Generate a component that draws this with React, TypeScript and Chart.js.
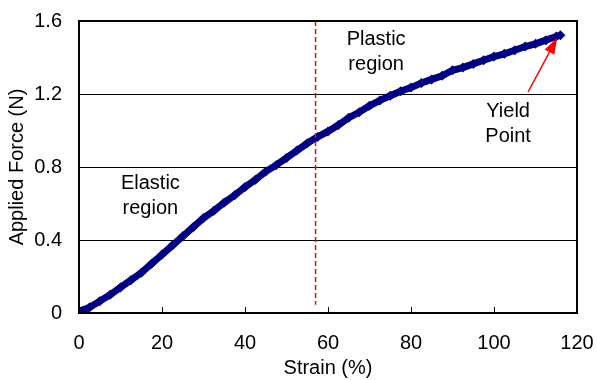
import React, { useEffect, useRef } from "react";
import { Chart, registerables } from "chart.js";

Chart.register(...registerables);

const strain = [0, 2.5, 5, 7.5, 10, 12.5, 15, 17.5, 20, 22.5, 25, 27.5, 30, 32.5, 35, 37.5, 40, 42.5, 45, 47.5, 50, 52.5, 55, 57.5, 60, 62.5, 65, 67.5, 70, 72.5, 75, 77.5, 80, 82.5, 85, 87.5, 90, 92.5, 95, 97.5, 100, 102.5, 105, 107.5, 110, 112.5, 115, 116];
const force = [0.01, 0.03, 0.065, 0.1, 0.14, 0.18, 0.22, 0.27, 0.32, 0.37, 0.42, 0.47, 0.52, 0.56, 0.605, 0.645, 0.69, 0.73, 0.775, 0.81, 0.85, 0.89, 0.93, 0.965, 0.995, 1.03, 1.07, 1.1, 1.135, 1.165, 1.19, 1.215, 1.235, 1.26, 1.28, 1.3, 1.33, 1.345, 1.365, 1.385, 1.405, 1.42, 1.44, 1.46, 1.475, 1.495, 1.515, 1.522];

const xTicks = [0, 20, 40, 60, 80, 100, 120];
const yTicks = [0, 0.4, 0.8, 1.2, 1.6];

const dashX = 57;
const dashY = [1.6, 0.045];

const annotations = [
  { lines: ["Elastic", "region"], x: 17.2, y: 0.64 },
  { lines: ["Plastic", "region"], x: 71.6, y: 1.43 },
  { lines: ["Yield", "Point"], x: 103.4, y: 1.036 },
];
const arrowFrom = { x: 108.2, y: 1.211 };
const arrowTo = { x: 115.2, y: 1.507 };

const FONT = "'Liberation Sans', Arial, sans-serif";

const zeroPad = (s: any) => {
  s.paddingTop = 0;
  s.paddingBottom = 0;
  s.paddingLeft = 0;
  s.paddingRight = 0;
};

const overlay = {
  id: "overlay",
  beforeDatasetsDraw(chart: any) {
    const { ctx, chartArea, scales } = chart;
    const xs = scales.x;
    ctx.save();
    ctx.strokeStyle = "#000";
    ctx.lineWidth = 1;
    for (const t of xTicks) {
      if (t === 0 || t === 120) continue;
      const px = Math.round(xs.getPixelForValue(t)) + 0.5;
      ctx.beginPath();
      ctx.moveTo(px, chartArea.bottom);
      ctx.lineTo(px, chartArea.bottom - 6);
      ctx.stroke();
    }
    ctx.restore();
  },
  afterDraw(chart: any) {
    const { ctx, chartArea, scales } = chart;
    const xs = scales.x;
    const ys = scales.y;
    ctx.save();
    ctx.strokeStyle = "#000";
    ctx.lineWidth = 2;
    ctx.strokeRect(chartArea.left, chartArea.top, chartArea.right - chartArea.left, chartArea.bottom - chartArea.top);
    ctx.fillStyle = "#000";
    ctx.font = `20px ${FONT}`;
    ctx.textAlign = "center";
    ctx.textBaseline = "middle";
    for (const a of annotations) {
      const cx = xs.getPixelForValue(a.x);
      const cy = ys.getPixelForValue(a.y);
      const lh = 25;
      a.lines.forEach((l, i) => {
        ctx.fillText(l, cx, cy + (i - (a.lines.length - 1) / 2) * lh);
      });
    }
    const x1 = xs.getPixelForValue(arrowFrom.x);
    const y1 = ys.getPixelForValue(arrowFrom.y);
    const x2 = xs.getPixelForValue(arrowTo.x);
    const y2 = ys.getPixelForValue(arrowTo.y);
    const ang = Math.atan2(y2 - y1, x2 - x1);
    const hl = 16;
    const hw = 5.5;
    const bx = x2 - hl * Math.cos(ang);
    const by = y2 - hl * Math.sin(ang);
    ctx.strokeStyle = "#ff0000";
    ctx.fillStyle = "#ff0000";
    ctx.lineWidth = 1.5;
    ctx.beginPath();
    ctx.moveTo(x1, y1);
    ctx.lineTo(bx, by);
    ctx.stroke();
    ctx.beginPath();
    ctx.moveTo(x2, y2);
    ctx.lineTo(bx + hw * Math.sin(ang), by - hw * Math.cos(ang));
    ctx.lineTo(bx - hw * Math.sin(ang), by + hw * Math.cos(ang));
    ctx.closePath();
    ctx.fill();
    ctx.restore();
  },
};

export default function App() {
  const ref = useRef<HTMLCanvasElement>(null);
  useEffect(() => {
    if (!ref.current) return;
    const chart = new Chart(ref.current, {
      type: "line",
      data: {
        datasets: [
          {
            data: dashY.map((y) => ({ x: dashX, y })),
            borderColor: "#ff0000",
            borderWidth: 1.5,
            borderDash: [5, 3],
            pointRadius: 0,
            order: 0,
          },
          {
            data: strain.map((s, i) => ({ x: s, y: force[i] })),
            borderColor: "#000080",
            backgroundColor: "#000080",
            borderWidth: 7,
            pointStyle: "rectRot",
            pointRadius: 5,
            pointBorderWidth: 0,
            pointBackgroundColor: "#000080",
            tension: 0,
            order: 1,
          },
        ],
      },
      options: {
        animation: false,
        responsive: false,
        devicePixelRatio: 1,
        layout: { padding: { left: 0, right: 20, top: 21, bottom: 0 } },
        plugins: { legend: { display: false }, tooltip: { enabled: false } },
        scales: {
          x: {
            type: "linear",
            min: 0,
            max: 120,
            afterBuildTicks: (s: any) => { s.ticks = xTicks.map((v) => ({ value: v })); },
            afterFit: (s: any) => { s.height = 67; zeroPad(s); },
            grid: { display: false, drawTicks: false },
            border: { display: false },
            ticks: { color: "#000", font: { family: FONT, size: 20 }, padding: 18, maxRotation: 0, callback: (v: any) => String(v) },
            title: { display: true, text: "Strain (%)", color: "#000", font: { family: FONT, size: 20 }, padding: { top: 0, bottom: 0 } },
          },
          y: {
            type: "linear",
            min: 0,
            max: 1.6,
            afterBuildTicks: (s: any) => { s.ticks = yTicks.map((v) => ({ value: v })); },
            afterFit: (s: any) => { s.width = 79; zeroPad(s); },
            grid: { color: "#000", lineWidth: 1, drawTicks: false },
            border: { display: false },
            ticks: { color: "#000", font: { family: FONT, size: 20 }, padding: 17, callback: (v: any) => (v === 0 ? "0" : Number(v).toFixed(1)) },
            title: { display: true, text: "Applied Force (N)", color: "#000", font: { family: FONT, size: 20 }, padding: { top: 5, bottom: 0 } },
          },
        },
      },
      plugins: [overlay],
    });
    return () => chart.destroy();
  }, []);
  return (
    <div style={{ position: "fixed", left: 0, top: 0, width: 597, height: 380, background: "#fff" }}>
      <canvas ref={ref} width={597} height={380} style={{ width: 597, height: 380, display: "block" }} />
    </div>
  );
}
